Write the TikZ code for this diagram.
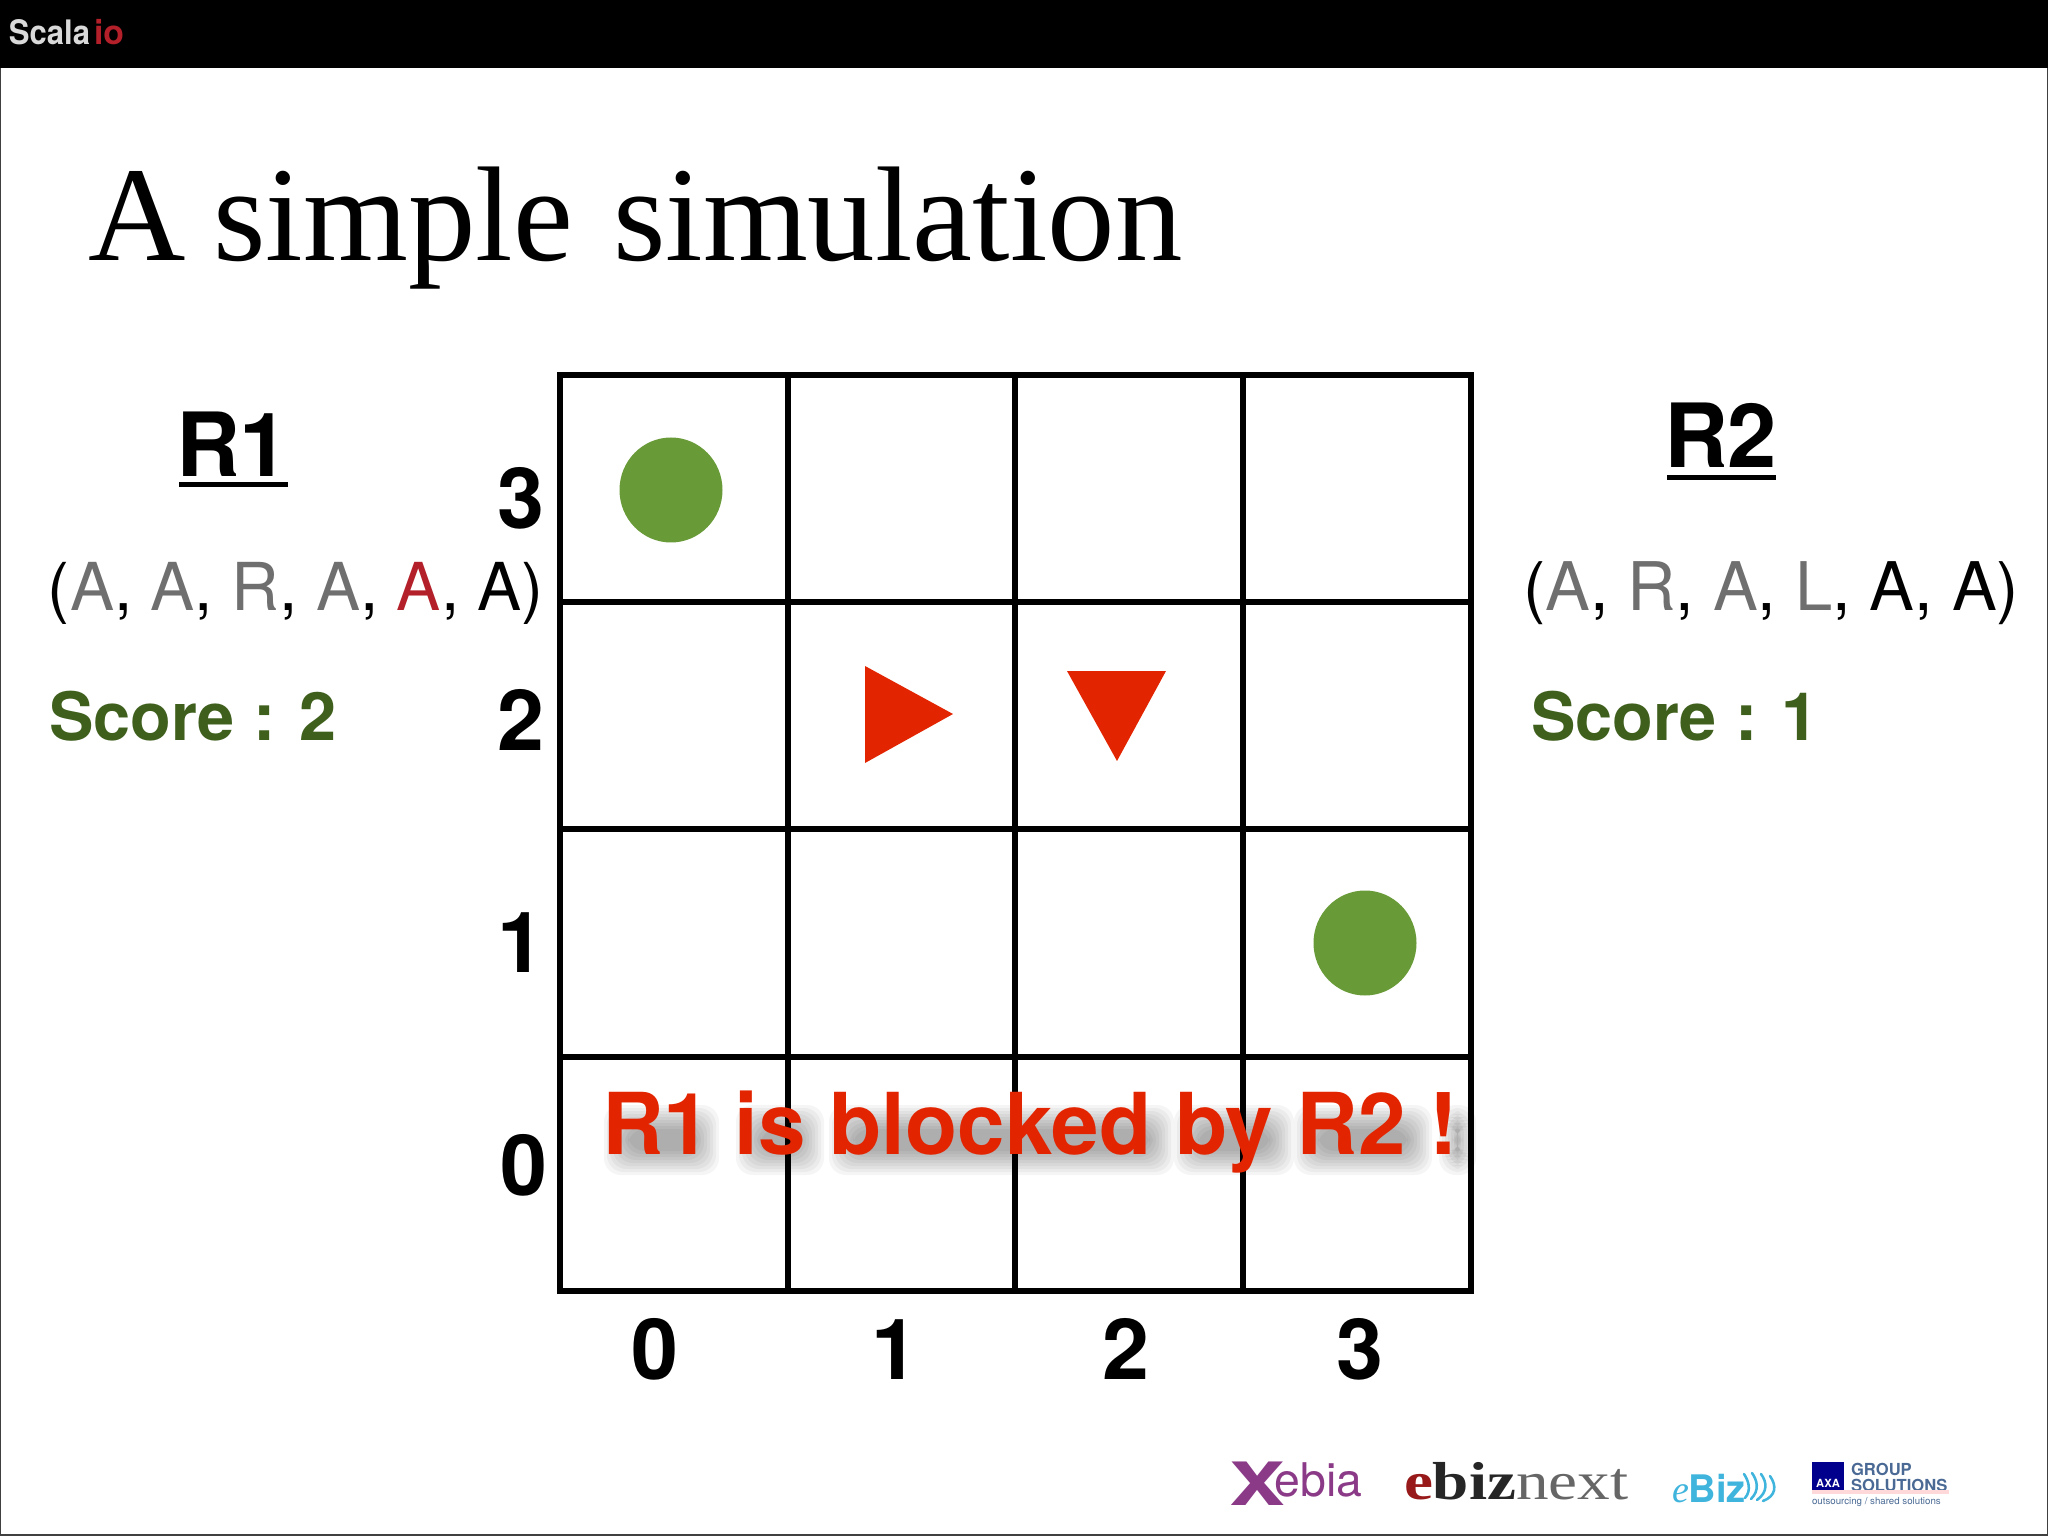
\documentclass[tikz,border=0pt]{standalone}
\usepackage{fontspec}
\setmainfont{TeX Gyre Heros}
\newfontfamily\serifface{Liberation Serif}
\definecolor{scorecol}{HTML}{3F5F1D}
\definecolor{dotcol}{HTML}{689B37}
\definecolor{redcol}{HTML}{E32400}
\definecolor{graycol}{HTML}{6F6F6F}
\definecolor{darkred}{HTML}{B3202A}
\definecolor{xebiacol}{HTML}{8B3A87}
\definecolor{ebizcol}{HTML}{3FB4DC}
\definecolor{axacol}{HTML}{4A6A95}
\newcommand{\fs}[1]{\fontsize{#1}{#1}\selectfont}
\tikzset{
  txt/.style={inner sep=0pt,outer sep=0pt,anchor=base west},
  mid/.style={inner sep=0pt,outer sep=0pt,anchor=base},
  axislabel/.style={mid,font=\bfseries\fs{60}},
  gridline/.style={draw=black,line width=3.9pt,line cap=rect},
  robot/.style={fill=redcol,draw=none},
  goal/.style={fill=dotcol,draw=none},
  heading/.style={txt,font=\bfseries\fs{63}},
  tuple/.style={txt,font=\fs{47.7}},
  score/.style={txt,font=\bfseries\fs{47.4},text=scorecol},
  ulin/.style={draw=black,line width=3pt},
  wave/.style={draw=ebizcol,line width=1.8pt,line cap=round},
  softblob/.style={fill=black,opacity=0.04,rounded corners=12pt},
}
\begin{document}
\begin{tikzpicture}[x=0.025cm,y=-0.025cm]
\useasboundingbox (0,0) rectangle (2048,1536);
\fill[white] (0,0) rectangle (2048,1536);
\draw[black!75,line width=1.2pt] (0.5,60) -- (0.5,1535) -- (2047.5,1535) -- (2047.5,60);
\fill[black] (0,0) rectangle (2048,68);
\node[txt,text=white!85!black,font=\bfseries\fs{24}] (scala) at (9,45) {\scalebox{.92}[1]{Scala}};
\node[txt,text=darkred,font=\bfseries\fs{24}] (io) at (94,45) {io};

\node[txt,font=\serifface\fs{95.9}] (title) at (88,261) {A\hspace{-4pt} simple\hspace{4.5pt} simulation};

% grid
\foreach \x in {560,788,1015,1243,1471} \draw[gridline] (\x,375) -- (\x,1291);
\foreach \y in {375,602,829,1057,1291} \draw[gridline] (560,\y) -- (1471,\y);

% axis labels
\node[axislabel] (y3) at (521,529) {3};
\node[axislabel] (y2) at (521,750) {2};
\node[axislabel] (y1) at (521,972) {1};
\node[axislabel] (y0) at (524,1195) {0};
\node[axislabel] (x0) at (655,1379) {0};
\node[axislabel] (x1) at (895,1379) {1};
\node[axislabel] (x2) at (1126,1379) {2};
\node[axislabel] (x3) at (1360,1379) {3};

% goals and robots
\fill[goal] (671,490) ellipse [x radius=51.5,y radius=52.5];
\fill[goal] (1365,943) ellipse [x radius=51.5,y radius=52.5];
\fill[robot] (865,666) -- (865,763) -- (953,714) -- cycle;
\fill[robot] (1067,671) -- (1166,671) -- (1117,761) -- cycle;

% left panel
\node[heading] (r1) at (176,477) {R1};
\draw[ulin] (179,484.5) -- (288,484.5);
\node[tuple,font=\fs{47}] (t1) at (48,610) {(\textcolor{graycol}{A}, \textcolor{graycol}{A}, \textcolor{graycol}{R}, \textcolor{graycol}{A}, \textcolor{darkred}{A}, A)};
\node[score] (s1) at (49,740) {Score : 2};

% right panel
\node[heading] (r2) at (1664,468) {R2};
\draw[ulin] (1667,477.5) -- (1776,477.5);
\node[tuple] (t2) at (1523,610) {(\textcolor{graycol}{A}, \textcolor{graycol}{R}, \textcolor{graycol}{A}, \textcolor{graycol}{L}, A, A)};
\node[score] (s2) at (1531,740) {Score : 1};

% soft shadow of the message, word by word
\foreach \a/\b in {610/695,742/800,835/1150,1180/1270,1300/1408,1445/1452}
  \foreach \g in {-9,-6,-3,0,3,6,9,12,15}
    \fill[softblob] (\a+9-\g,1120-\g) rectangle (\b+9+\g,1160+\g);
\node[txt,text=redcol,font=\bfseries\fs{60.7}] (msg) at (602,1154) {R1 is blocked by R2 !};

% footer logos
\node[txt,text=xebiacol,font=\fs{33}] (xe) at (1229,1505) {\scalebox{1.4}[1]{\bfseries\fs{42.5}X}\hspace{-7pt}\raisebox{6.4pt}{ebia}};
\node[txt,font=\serifface\fs{38}] (eb) at (1404,1499) {\scalebox{1.22}[1]{\textcolor{red!55!black!90}{\bfseries e}\textcolor{black!85}{\bfseries biz}\textcolor{black!60}{next}}};
\node[txt,text=ebizcol,font=\bfseries\fs{27}] (ez) at (1672,1502) {{\serifface\mdseries\itshape e}Biz};
\draw[wave] (1745,1498) .. controls (1752,1490) and (1748,1480) .. (1744,1474);
\draw[wave] (1751,1499) .. controls (1760,1490) and (1757,1480) .. (1752,1473);
\draw[wave] (1757,1500) .. controls (1768,1492) and (1767,1482) .. (1761,1474);
\draw[wave] (1763,1501) .. controls (1776,1496) and (1777,1486) .. (1770,1476);
\fill[blue!55!black] (1812,1462) rectangle (1844,1490);
\node[mid,text=white,font=\bfseries\fs{8}] (axa) at (1828,1487) {AXA};
\node[txt,text=axacol,font=\bfseries\fs{11.8},align=left,anchor=north west] (gs) at (1851,1463) {GROUP\\SOLUTIONS};
\fill[red!15] (1812,1490) rectangle (1949,1494);
\node[txt,text=axacol,font=\fs{6.9}] (sh) at (1812,1504) {outsourcing / shared solutions};
\end{tikzpicture}
\end{document}
